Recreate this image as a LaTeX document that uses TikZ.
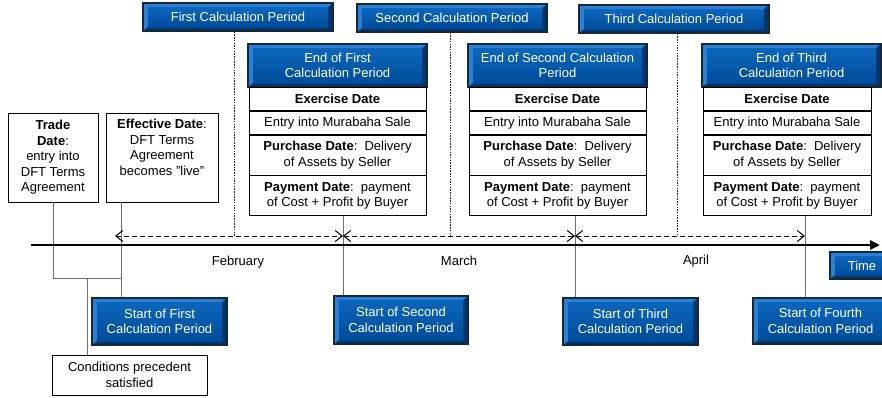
\documentclass[tikz,border=0pt]{standalone}
\usepackage{fontspec}
\setmainfont{Liberation Sans}
\usetikzlibrary{arrows.meta,calc}
\definecolor{bdark}{HTML}{1B2635}
\definecolor{blight}{HTML}{2A80D4}
\definecolor{bshadow}{HTML}{00376E}
\definecolor{btop}{HTML}{0C66BC}
\definecolor{bbot}{HTML}{004C9A}
\definecolor{lgray}{HTML}{707070}
\tikzset{
  txt/.style={font=\fontsize{13}{15.5}\selectfont},
  bluebox/.style={txt, draw=bdark, line width=1.5pt, fill=bbot, text=white, align=center, inner sep=0pt,
    path picture={
      \fill[bshadow] (path picture bounding box.south west) rectangle (path picture bounding box.north east);
      \fill[blight] (path picture bounding box.south west) -- (path picture bounding box.north west)
        -- (path picture bounding box.north east) -- ([shift={(-5pt,-4pt)}]path picture bounding box.north east)
        -- ([shift={(5pt,-4pt)}]path picture bounding box.north west) -- ([shift={(5pt,4pt)}]path picture bounding box.south west) -- cycle;
      \shade[top color=btop, bottom color=bbot] ([shift={(5pt,4pt)}]path picture bounding box.south west)
        rectangle ([shift={(-5pt,-4pt)}]path picture bounding box.north east);
    }},
  rowbox/.style={txt, draw=black, line width=0.8pt, fill=white, align=center, inner sep=0pt, anchor=north},
  wbox/.style={txt, draw=black, line width=0.8pt, fill=white, align=center, inner sep=0pt},
  gline/.style={draw=lgray, line width=0.8pt},
  dotline/.style={draw=black!85, line width=0.8pt, dash pattern=on 1.5pt off 1.2pt},
  dasharrow/.style={draw=black, line width=0.9pt, dash pattern=on 5pt off 3pt,
    {Straight Barb[length=7pt,width=11pt,line width=1pt]}-{Straight Barb[length=7pt,width=11pt,line width=1pt]}},
}
\begin{document}
\begin{tikzpicture}[x=1pt,y=-1pt]
\useasboundingbox (0,0) rectangle (882,397);
\fill[white] (0,0) rectangle (882,397);

% timeline coordinates
\coordinate (tl0) at (31,245);
\coordinate (tl1) at (880,245);
\coordinate (d0) at (115,236);
\coordinate (d1) at (343,236);
\coordinate (d2) at (575,236);
\coordinate (d3) at (805,236);
\coordinate (j) at (87,278);
\coordinate (j2) at (121,278);

% top period boxes
\node[bluebox, minimum width=190pt, minimum height=28pt] (p1) at (238,17) {First Calculation Period};
\node[bluebox, minimum width=190pt, minimum height=28pt] (p2) at (452,18) {Second Calculation Period};
\node[bluebox, minimum width=190pt, minimum height=28pt] (p3) at (674,19) {Third Calculation Period};

\draw[dotline] ([xshift=-4pt]p1.south) -- ([xshift=-4pt]p1.south |- d0);
\draw[dotline] ([xshift=-2pt]p2.south) -- ([xshift=-2pt]p2.south |- d0);
\draw[dotline] ([xshift=3pt]p3.south) -- ([xshift=3pt]p3.south |- d0);

% end-of-period columns
\foreach \i/\hx/\tx/\tw/\lab in {1/337.5/337.5/177/End of First\\Calculation Period,
                                 2/557.5/557.5/177/End of Second Calculation\\Period,
                                 3/791.5/787/168/End of Third\\Calculation Period}{
  \node[bluebox, minimum width=179pt, minimum height=43pt] (e\i) at (\hx,65.5) {\lab};
  \node[rowbox, minimum width=\tw pt, minimum height=23pt] (ex\i) at (\tx,87) {\textbf{Exercise Date}};
  \node[rowbox, minimum width=\tw pt, minimum height=23pt] (en\i) at (ex\i.south) {Entry into Murabaha Sale};
  \node[rowbox, minimum width=\tw pt, minimum height=40pt] (pu\i) at (en\i.south) {\textbf{Purchase Date}:~~Delivery\\of Assets by Seller};
  \node[rowbox, minimum width=\tw pt, minimum height=40pt] (pa\i) at (pu\i.south) {\textbf{Payment Date}:~~payment\\of Cost + Profit by Buyer};
}

% left boxes
\node[wbox, minimum width=90pt, minimum height=89pt] (trade) at (53,157.5)
  {\textbf{Trade}\\\textbf{Date}:\\entry into\\DFT Terms\\Agreement};
\node[wbox, minimum width=112pt, minimum height=89pt] (eff) at (162,157.5)
  {\textbf{Effective Date}:\\DFT Terms\\Agreement\\becomes \char"22 live\char"22\\\strut};

% start boxes
\node[bluebox, minimum width=135pt, minimum height=47pt] (s1) at (159.5,321.5) {Start of First\\Calculation Period};
\node[bluebox, minimum width=134pt, minimum height=48pt] (s2) at (401,320) {Start of Second\\Calculation Period};
\node[bluebox, minimum width=135pt, minimum height=47pt] (s3) at (630.5,321.5) {Start of Third\\Calculation Period};
\node[bluebox, minimum width=135pt, minimum height=46pt] (s4) at (820.5,321) {Start of Fourth\\Calculation Period};
\node[bluebox, minimum width=64pt, minimum height=27pt] (time) at (862,265.5) {Time};

\node[wbox, minimum width=155pt, minimum height=40pt] (cond) at (129.5,375) {Conditions precedent\\satisfied};

% month labels
\node[txt] (feb) at (238,262) {February};
\node[txt] (mar) at (459,261) {March};
\node[txt] (apr) at (696,261) {April};

% connectors
\draw[gline] (trade.south) |- (j2);
\draw[gline] (eff.south -| j2) -- (s1.north -| j2);
\draw[gline] (j) -- (j |- cond.north);
\draw[gline] (pa1.south -| d1) -- (s2.north -| d1);
\draw[gline] (pa2.south -| d2) -- (s3.north -| d2);
\draw[gline] (pa3.south -| d3) -- (s4.north -| d3);

\draw[dasharrow] (d0) -- (d1);
\draw[dasharrow] (d1) -- (d2);
\draw[dasharrow] (d2) -- (d3);

\draw[line width=2.5pt, -{Triangle[length=10pt,width=9pt]}] (tl0) -- (tl1);
\end{tikzpicture}
\end{document}
